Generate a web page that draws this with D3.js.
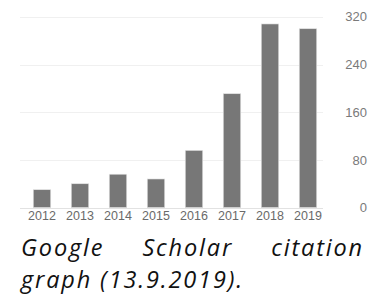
<!DOCTYPE html>
<html><head><meta charset="utf-8">
<script src="https://cdn.jsdelivr.net/npm/d3@7"></script>
<style>
html,body{margin:0;padding:0;background:#fff;}
svg{display:block;}
</style></head>
<body>
<svg id="c" width="379" height="298"></svg>
<script>
const years = ["2012","2013","2014","2015","2016","2017","2018","2019"];
const citations = [30, 40, 56, 48, 96, 191, 308, 300];
const yTicks = [0, 80, 160, 240, 320];
const captionLine1 = ["Google", "Scholar", "citation"];
const captionLine2 = "graph (13.9.2019).";

const svg = d3.select("#c");
const x = d3.scaleBand().domain(years).range([23, 327]).paddingInner(0.54).paddingOuter(0.27);
const y = d3.scaleLinear().domain([0, 320]).range([207.6, 16.8]);

// gridlines
svg.append("g").selectAll("line").data(yTicks).join("line")
  .attr("x1", 20).attr("x2", 323)
  .attr("y1", d => Math.round(y(d)) + 0.5).attr("y2", d => Math.round(y(d)) + 0.5)
  .attr("stroke", d => d === 0 ? "#e2e2e2" : "#f0f0f0").attr("stroke-width", 1);

// bars
svg.append("g").selectAll("rect").data(citations).join("rect")
  .attr("x", (d, i) => x(years[i]))
  .attr("width", x.bandwidth())
  .attr("y", d => y(d))
  .attr("height", d => y(0) - y(d))
  .attr("fill", "#777777")
  .attr("stroke", "#e4e4e4").attr("stroke-width", 0.6);

// x axis
const xAxis = d3.axisBottom(x).tickSize(0).tickPadding(0);
const gx = svg.append("g").attr("transform", "translate(0,207)").call(xAxis)
  .attr("font-family", "'Liberation Sans', Arial, sans-serif").attr("font-size", 12.5);
gx.select(".domain").remove();
gx.selectAll("text").attr("fill", "#6a6a6a").attr("dy", "0.71em").attr("y", 4);

// y axis (right)
const yAxis = d3.axisRight(y).tickValues(yTicks).tickSize(0).tickPadding(0);
const gy = svg.append("g").attr("transform", "translate(367,0)").call(yAxis)
  .attr("font-family", "'Liberation Sans', Arial, sans-serif").attr("font-size", 13);
gy.select(".domain").remove();
gy.selectAll("text").attr("fill", "#7a7a7a").attr("text-anchor", "end").attr("x", 0);

// caption
const capFont = "'Open Sans', 'Noto Sans', sans-serif";
const capSize = 23.5;
const left = 21, right = 364, line2Right = 244;
const l2 = svg.append("text").attr("font-family", capFont).attr("font-style", "italic")
  .attr("font-size", capSize).attr("fill", "#111").attr("x", left).attr("y", 288).text(captionLine2);
const w2 = l2.node().getComputedTextLength();
const ls = (line2Right - left - w2) / captionLine2.length;
l2.attr("letter-spacing", ls);

const words = svg.append("g").selectAll("text").data(captionLine1).join("text")
  .attr("font-family", capFont).attr("font-style", "italic").attr("font-size", capSize)
  .attr("letter-spacing", ls).attr("fill", "#111").attr("y", 256).text(d => d);
const widths = [];
words.each(function(d){ widths.push(this.getComputedTextLength()); });
const gap = (right - left - d3.sum(widths)) / (widths.length - 1);
let cx = left;
words.attr("x", (d, i) => { const v = cx; cx += widths[i] + gap; return v; });
</script>
</body></html>
